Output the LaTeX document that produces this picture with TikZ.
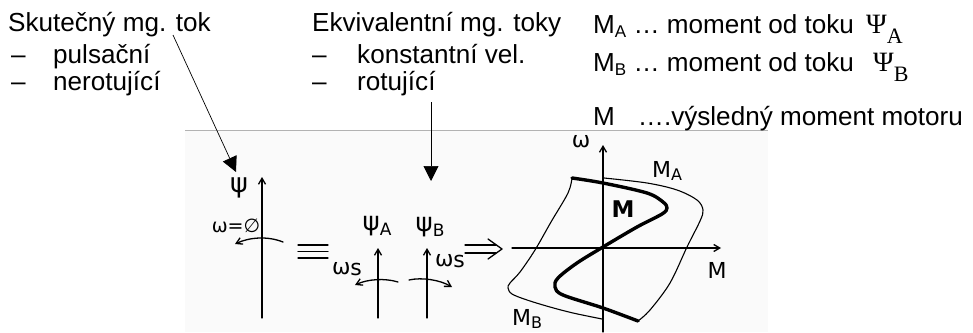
\documentclass[tikz,border=0pt]{standalone}
\usepackage{fontspec}
\setmainfont{Liberation Sans}
\newfontfamily\serifgr{Liberation Serif}
\newfontfamily\handfont{DejaVu Sans}
\usetikzlibrary{arrows.meta}
\newcommand\mysubA[1]{\raisebox{-4pt}{\fontsize{17}{17}\selectfont #1}}
\newcommand\mypsi[1]{{\serifgr\fontsize{28}{28}\selectfont Ψ\raisebox{-10pt}{\fontsize{22}{22}\selectfont #1}}}
\begin{document}
\begin{tikzpicture}[x=1pt,y=-1pt,
  txt/.style={anchor=base west,inner sep=0pt,font=\fontsize{26.1}{30}\selectfont},
  hand/.style={line width=1.3pt,line cap=round,line join=round},
  handarrow/.style={hand,-{Straight Barb[length=6pt,width=7pt]}},
  boldcurve/.style={line width=3.4pt,line cap=round,line join=round},
  thincurve/.style={line width=1.1pt,line cap=round,line join=round},
  hlabel/.style={inner sep=0pt,font=\handfont\fontsize{22}{22}\selectfont},
  pointer/.style={line width=0.7pt,-{Triangle[length=15pt,width=15pt]}}]
\useasboundingbox (0,0) rectangle (973,332);
\fill[white] (0,0) rectangle (973,332);
\fill[black!2] (185,130) rectangle (768,332);
\draw[black!30,line width=0.8pt] (185,130) -- (768,130);

% left column
\node[txt] (t1) at (8,31.5) {Skutečný mg. tok};
\node[txt] (d1) at (11,63) {–};
\node[txt] (p1) at (53,63) {pulsační};
\node[txt] (d2) at (11,90) {–};
\node[txt] (p2) at (53,90) {nerotující};

% middle column
\node[txt] (t2) at (312,31.5) {Ekvivalentní mg. toky};
\node[txt] (d3) at (312,63) {–};
\node[txt] (p3) at (357,63) {konstantní vel.};
\node[txt] (d4) at (312,90) {–};
\node[txt] (p4) at (357,90) {rotující};

% right column
\node[txt] (r1) at (593,33) {M\mysubA{A} … moment od toku};
\node[txt] (psa) at (866,33) {\mypsi{A}};
\node[txt] (r2) at (593,71) {M\mysubA{B} … moment od toku};
\node[txt] (psb) at (873,71) {\mypsi{B}};
\node[txt] (r3) at (593,125) {M\hspace{23pt}….výsledný moment motoru};

% pointers
\coordinate (ds) at (173,35);
\coordinate (de) at (236,172);
\draw[pointer] (ds) -- (de);
\coordinate (vs) at (431,102);
\coordinate (ve) at (431,181);
\draw[pointer] (vs) -- (ve);

% real flux
\node[hlabel,font=\handfont\fontsize{27}{27}\selectfont] (psi) at (239,188) {ψ};
\coordinate (pa0) at (262,318);
\coordinate (pa1) at (262,177);
\draw[handarrow] (pa0) -- (pa1);
\node[hlabel,font=\handfont\fontsize{19}{19}\selectfont] (w0) at (236,226) {ω=∅};
\coordinate (a0s) at (283,242);
\coordinate (a0e) at (235,244);
\draw[handarrow] (a0s) .. controls (268,236) and (250,237) .. (a0e);

% equivalence sign
\draw[hand] (298,245) -- (328,245);
\draw[hand] (298,251.5) -- (328,251.5);
\draw[hand] (298,258) -- (328,258);

% equivalent fluxes
\node[hlabel,font=\handfont\fontsize{26}{26}\selectfont] (psA) at (377,226) {ψ\raisebox{-5pt}{\fontsize{17}{17}\selectfont A}};
\node[hlabel,font=\handfont\fontsize{26}{26}\selectfont] (psB) at (430,227) {ψ\raisebox{-5pt}{\fontsize{17}{17}\selectfont B}};
\coordinate (fa0) at (378,318);
\coordinate (fa1) at (378,248);
\draw[handarrow] (fa0) -- (fa1);
\coordinate (fb0) at (427,318);
\coordinate (fb1) at (427,248);
\draw[handarrow] (fb0) -- (fb1);
\node[hlabel] (wsl) at (347,269) {ω\raisebox{-1pt}{s}};
\node[hlabel] (wsr) at (450,261) {ω\raisebox{-1pt}{s}};
\coordinate (al0) at (398,282);
\coordinate (al1) at (355,285);
\draw[handarrow] (al0) .. controls (385,278) and (368,279) .. (al1);
\coordinate (ar0) at (409,280);
\coordinate (ar1) at (452,287);
\draw[handarrow] (ar0) .. controls (422,277) and (440,280) .. (ar1);

% implies
\draw[hand] (465,245) -- (496,245);
\draw[hand] (465,253) -- (496,253);
\draw[hand] (488,239) -- (502,249) -- (488,259);

% torque-speed graph
\coordinate (wy0) at (603,332);
\coordinate (wy1) at (603,145);
\draw[handarrow] (wy0) -- (wy1);
\coordinate (mx0) at (512,248);
\coordinate (mx1) at (721,248);
\draw[handarrow] (mx0) -- (mx1);
\node[hlabel] (lw) at (581,142) {ω};
\node[hlabel] (lM) at (717,270) {M};
\node[hlabel] (lMA) at (667,171) {M\raisebox{-3pt}{\fontsize{16}{16}\selectfont A}};
\node[hlabel] (lMB) at (527,319) {M\raisebox{-3pt}{\fontsize{16}{16}\selectfont B}};
\node[hlabel,font=\handfont\bfseries\fontsize{23}{23}\selectfont] (lMb) at (623,209) {M};

\draw[thincurve] plot[smooth,tension=0.55] coordinates {(604,178) (647,183) (677,190) (697,200) (703,210) (700,221) (687,247) (670,283) (650,310) (638,321)};
\draw[thincurve] plot[smooth,tension=0.55] coordinates {(572,178) (568,193) (551,222) (535,250) (520,272) (510,283) (508,288) (512,294) (527,300) (550,307) (573,313) (602,319)};
\draw[boldcurve] plot[smooth,tension=0.55] coordinates {(572,178) (603,183) (647,193) (663,202) (667,208) (662,214) (637,227) (603,247) (577,263) (558,278) (555,287) (563,295) (603,308) (638,321)};
\end{tikzpicture}
\end{document}
